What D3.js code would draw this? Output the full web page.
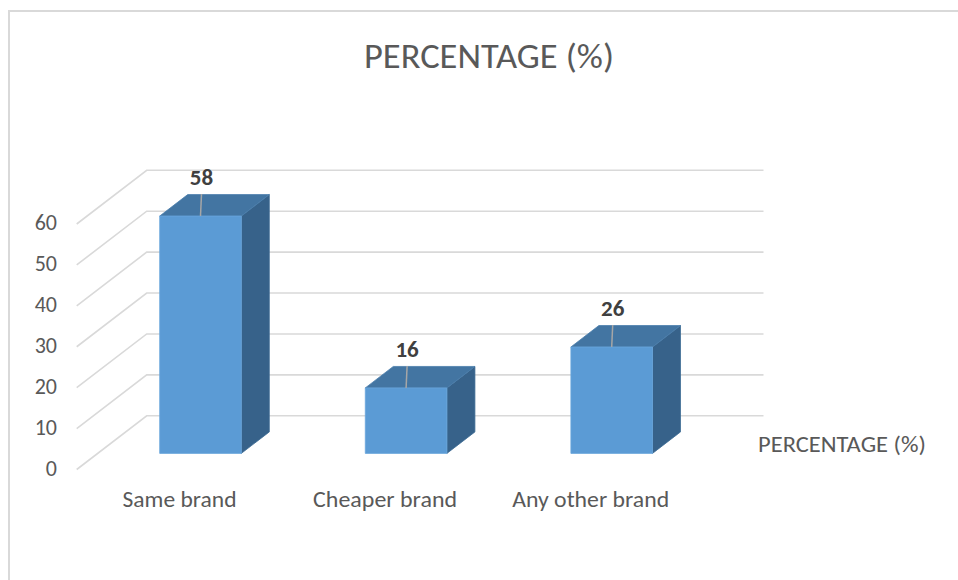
<!DOCTYPE html>
<html>
<head>
<meta charset="utf-8">
<script src="https://cdn.jsdelivr.net/npm/d3@7"></script>
<style>
  html, body { margin: 0; padding: 0; background: #ffffff; }
  svg { display: block; font-family: Carlito, "Open Sans", "Noto Sans", sans-serif; }
</style>
</head>
<body>
<svg id="chart" width="958" height="580"></svg>
<script>
// Chart data
const categories = ["Same brand", "Cheaper brand", "Any other brand"];
const values = [58, 16, 26];
const yTicks = [0, 10, 20, 30, 40, 50, 60];
const chartTitle = "PERCENTAGE (%)";
const seriesName = "PERCENTAGE (%)";

const svg = d3.select("#chart");

// Outer chart frame (runs off the right and bottom edges)
svg.append("path")
  .attr("d", "M9,590 L9,11 L970,11")
  .attr("fill", "none")
  .attr("stroke", "#d9d9d9")
  .attr("stroke-width", 2);

// Oblique 3D projection: front plane scales plus a depth offset vector
const depth = { dx: 70, dy: -53.7 };
const x = d3.scaleBand().domain(categories).range([76.7, 693.5]);
const y = d3.scaleLinear().domain([0, 60]).range([469.5, 224]);
const proj = (px, v, z) => [px + z * depth.dx, y(v) + z * depth.dy];

// Wall gridlines: diagonal on the side wall, horizontal on the back wall
const grid = svg.append("g").attr("stroke", "#d9d9d9").attr("stroke-width", 1.6).attr("fill", "none");
const x0 = x.range()[0], x1 = x.range()[1];
grid.selectAll("path").data(yTicks).join("path")
  .attr("d", v => {
    const a = proj(x0, v, 0), b = proj(x0, v, 1), c = proj(x1, v, 1);
    return `M${a[0]},${a[1]} L${b[0]},${b[1]} L${c[0]},${c[1]}`;
  });

// Y tick labels on the front edge
svg.append("g").selectAll("text").data(yTicks).join("text")
  .attr("x", 57)
  .attr("y", v => y(v) + 1)
  .attr("text-anchor", "end")
  .attr("dominant-baseline", "middle")
  .attr("font-size", 22)
  .attr("fill", "#595959")
  .text(d => d);

// 3D columns
const barFrac = 0.397;     // column width as share of the category step
const z0 = 0.30, z1 = 0.70; // column depth span
const bars = svg.append("g");
const poly = pts => "M" + pts.map(p => p.join(",")).join("L") + "Z";

categories.forEach((cat, i) => {
  const v = values[i];
  const cx = x(cat) + x.bandwidth() / 2;
  const w = x.step() * barFrac;
  const l = cx - w / 2, r = cx + w / 2;
  const ftl = proj(l, v, z0), ftr = proj(r, v, z0), fbl = proj(l, 0, z0), fbr = proj(r, 0, z0);
  const btl = proj(l, v, z1), btr = proj(r, v, z1), bbr = proj(r, 0, z1);
  const g = bars.append("g");
  // side face
  g.append("path").attr("d", poly([ftr, btr, bbr, fbr]))
    .attr("fill", "#37628a").attr("stroke", "#3f6d96").attr("stroke-width", 0.8);
  // top face
  g.append("path").attr("d", poly([ftl, ftr, btr, btl]))
    .attr("fill", "#4375a2").attr("stroke", "#4a7eac").attr("stroke-width", 0.8);
  // front face
  g.append("path").attr("d", poly([ftl, ftr, fbr, fbl]))
    .attr("fill", "#5b9bd5").attr("stroke", "#6aa6dc").attr("stroke-width", 0.8);

  // value label with leader line to the top edge
  const fx = (ftl[0] + ftr[0]) / 2;
  const topY = ftl[1];
  g.append("line")
    .attr("x1", fx + 1).attr("y1", topY - 22)
    .attr("x2", fx).attr("y2", topY)
    .attr("stroke", "#a6a6a6").attr("stroke-width", 1.5);
  g.append("text")
    .attr("x", fx + 1)
    .attr("y", topY - 31)
    .attr("text-anchor", "middle")
    .attr("font-size", 23)
    .attr("font-weight", "bold")
    .attr("fill", "#404040")
    .text(v);
});

// Category labels along the front edge
const catWidths = [114, 144, 157];
svg.append("g").selectAll("text").data(categories).join("text")
  .attr("x", d => x(d) + x.bandwidth() / 2)
  .attr("y", 506.5)
  .attr("text-anchor", "middle")
  .attr("font-size", 22)
  .attr("fill", "#595959")
  .attr("textLength", (d, i) => catWidths[i])
  .attr("lengthAdjust", "spacingAndGlyphs")
  .text(d => d);

// Series name on the right
svg.append("text")
  .attr("x", 758)
  .attr("y", 451.5)
  .attr("font-size", 23)
  .attr("fill", "#595959")
  .attr("textLength", 168)
  .attr("lengthAdjust", "spacingAndGlyphs")
  .text(seriesName);

// Title
svg.append("text")
  .attr("x", 489)
  .attr("y", 68)
  .attr("text-anchor", "middle")
  .attr("font-size", 34)
  .attr("fill", "#595959")
  .attr("textLength", 250)
  .attr("lengthAdjust", "spacingAndGlyphs")
  .text(chartTitle);
</script>
</body>
</html>
